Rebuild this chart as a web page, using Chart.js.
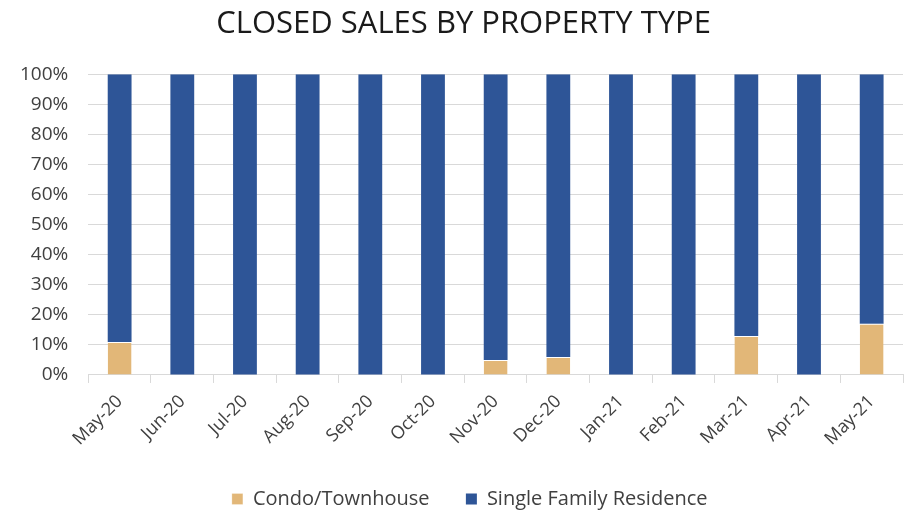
<!DOCTYPE html>
<html>
<head>
<meta charset="utf-8">
<script src="https://cdn.jsdelivr.net/npm/chart.js@4"></script>
<style>
  html, body { margin: 0; padding: 0; background: #fff; overflow: hidden; }
  #wrap { width: 912px; height: 510px; }
</style>
</head>
<body>
<div id="wrap"><canvas id="chart" width="912" height="510"></canvas></div>
<script>
// ── Closed sales by property type ──

const months = ['May-20', 'Jun-20', 'Jul-20', 'Aug-20', 'Sep-20', 'Oct-20', 'Nov-20',
  'Dec-20', 'Jan-21', 'Feb-21', 'Mar-21', 'Apr-21', 'May-21'];
const condoShare = [11, 0, 0, 0, 0, 0, 5, 6, 0, 0, 13, 0, 17];
const singleFamilyShare = [89, 100, 100, 100, 100, 100, 95, 94, 100, 100, 87, 100, 83];

const font = '"Open Sans", "Liberation Sans", sans-serif';
const textColor = '#404040';
const gridColor = '#d9d9d9';

const ctx = document.getElementById('chart').getContext('2d');

new Chart(ctx, {
  type: 'bar',
  data: {
    labels: months,
    datasets: [
      {
        label: 'Condo/Townhouse',
        data: condoShare,
        backgroundColor: '#e2b778',
        borderColor: '#ffffff',
        borderWidth: { top: 1 },
        barPercentage: 0.38,
        categoryPercentage: 1
      },
      {
        label: 'Single Family Residence',
        data: singleFamilyShare,
        backgroundColor: '#2e5597',
        barPercentage: 0.38,
        categoryPercentage: 1
      }
    ]
  },
  options: {
    responsive: false,
    animation: false,
    layout: { padding: { left: 0, right: 9, top: 0, bottom: -9 } },
    plugins: {
      title: {
        display: true,
        // leading spaces nudge the centred title a little to the right
        text: '   CLOSED SALES BY PROPERTY TYPE',
        color: '#1a1a1a',
        font: { family: font, size: 31, weight: 'normal' },
        padding: { top: 6, bottom: 31 }
      },
      legend: {
        position: 'bottom',
        fullSize: false,
        // empty legend title only used as a gap above the legend row
        title: { display: true, text: '', font: { size: 1 }, padding: { top: 30, bottom: 0 } },
        labels: {
          color: textColor,
          font: { family: font, size: 20 },
          boxWidth: 11,
          boxHeight: 11,
          padding: 0,
          // trailing spaces give the gap between entries and nudge the row left
          generateLabels: chart => {
            const items = Chart.defaults.plugins.legend.labels.generateLabels(chart);
            items.forEach((item, i) => {
              item.text += i < items.length - 1 ? '       ' : '          ';
            });
            return items;
          }
        }
      },
      tooltip: { enabled: false }
    },
    scales: {
      x: {
        stacked: true,
        grid: {
          offset: true,
          drawOnChartArea: false,
          drawTicks: true,
          tickLength: 8,
          color: gridColor
        },
        border: { color: gridColor, width: 1 },
        ticks: {
          color: textColor,
          font: { family: font, size: 18 },
          maxRotation: 45,
          minRotation: 45,
          padding: 8
        }
      },
      y: {
        stacked: true,
        min: 0,
        max: 100,
        grid: { color: gridColor, lineWidth: 1, drawTicks: false },
        border: { display: false },
        ticks: {
          stepSize: 10,
          color: textColor,
          font: { family: font, size: 19 },
          padding: 20,
          callback: v => v + '%'
        }
      }
    }
  }
});
</script>
</body>
</html>
